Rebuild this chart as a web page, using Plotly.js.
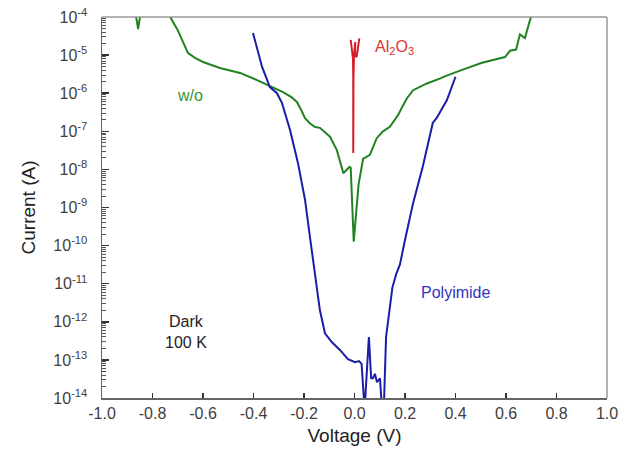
<!DOCTYPE html>
<html>
<head>
<meta charset="utf-8">
<script src="https://cdn.plot.ly/plotly-3.0.1.min.js"></script>
<style>html,body{margin:0;padding:0;background:#fff;}#chart{width:626px;height:455px;}</style>
</head>
<body>
<div id="chart"></div>
<script>
// w/o (green)
const woVoltage = [-0.95,-0.875,-0.862,-0.857,-0.852,-0.84,-0.76,-0.73,-0.70,-0.683,-0.66,-0.63,-0.6,-0.533,-0.453,-0.386,-0.327,-0.283,-0.25,-0.228,-0.21,-0.196,-0.176,-0.156,-0.137,-0.097,-0.07,-0.044,-0.02,-0.015,-0.003,0.006,0.016,0.034,0.061,0.088,0.113,0.14,0.173,0.19,0.208,0.232,0.287,0.34,0.36,0.426,0.505,0.596,0.616,0.64,0.655,0.675,0.695,0.72];
const woCurrent = [2.5e-4,2.0e-4,7.9e-5,4.8e-5,7.9e-5,2.0e-4,2.5e-4,1.0e-4,4.5e-5,2.5e-5,1.15e-5,8.3e-6,6.6e-6,4.6e-6,3.4e-6,2.2e-6,1.45e-6,1.07e-6,7.9e-7,5.9e-7,3.5e-7,2.2e-7,1.6e-7,1.3e-7,1.23e-7,7.2e-8,3.2e-8,7.9e-9,1.17e-8,1.1e-8,1.26e-10,6.3e-10,4.0e-9,1.9e-8,2.4e-8,6.6e-8,1.0e-7,1.32e-7,2.7e-7,4.5e-7,7.4e-7,1.2e-6,1.8e-6,2.45e-6,2.8e-6,4.1e-6,6.3e-6,8.9e-6,1.3e-5,1.4e-5,3.5e-5,2.8e-5,8.3e-5,2.5e-4];

// Polyimide (blue)
const piVoltage = [-0.402,-0.366,-0.335,-0.307,-0.287,-0.255,-0.224,-0.196,-0.176,-0.156,-0.137,-0.117,-0.09,-0.057,-0.026,0.002,0.018,0.028,0.04,0.057,0.066,0.073,0.081,0.089,0.101,0.109,0.116,0.125,0.133,0.14,0.15,0.165,0.18,0.2,0.232,0.27,0.31,0.325,0.366,0.40];
const piCurrent = [3.8e-5,4.9e-6,1.45e-6,1.0e-6,5.5e-7,1.07e-7,1.48e-8,1.6e-9,1.6e-10,1.6e-11,2.0e-12,5.0e-13,2.95e-13,1.8e-13,1.05e-13,8.7e-14,9.3e-14,7.9e-14,5e-15,4.0e-13,3.3e-14,3.3e-14,4.3e-14,2.6e-14,3.3e-14,5e-15,5e-15,4.0e-13,1.1e-12,3.2e-12,7.9e-12,1.78e-11,3.2e-11,1.4e-10,1.3e-9,1.15e-8,1.66e-7,2.2e-7,6.6e-7,2.7e-6];

// Al2O3 (red)
const alVoltage = [-0.015,-0.006,-0.005,-0.005,-0.004,-0.002,0.003,0.002,0.008,0.012,0.019];
const alCurrent = [2.5e-5,7.9e-6,2.5e-6,2.7e-8,2.5e-6,1.0e-5,2.2e-5,1.0e-5,8.9e-6,1.26e-5,2.75e-5];

const xTickVals = [-1.0,-0.8,-0.6,-0.4,-0.2,0.0,0.2,0.4,0.6,0.8,1.0];
const xTickText = ['-1.0','-0.8','-0.6','-0.4','-0.2','0.0','0.2','0.4','0.6','0.8','1.0'];
const yTickVals = [1e-14,1e-13,1e-12,1e-11,1e-10,1e-9,1e-8,1e-7,1e-6,1e-5,1e-4];
const yTickText = ['10<sup>-14</sup>','10<sup>-13</sup>','10<sup>-12</sup>','10<sup>-11</sup>','10<sup>-10</sup>','10<sup>-9</sup>','10<sup>-8</sup>','10<sup>-7</sup>','10<sup>-6</sup>','10<sup>-5</sup>','10<sup>-4</sup>'];
const minorMantissas = [2,3,4,5,6,7,8,9];

const yMinorVals = [];
yTickVals.slice(0, -1).forEach(d => minorMantissas.forEach(m => yMinorVals.push(m * d)));

const green = 'rgb(34,130,34)';
const blue = 'rgb(28,28,170)';
const red = 'rgb(215,30,40)';
const font = 'Arial, "Liberation Sans", sans-serif';

const traces = [
  {x: woVoltage, y: woCurrent, mode: 'lines', line: {color: green, width: 2}, name: 'w/o'},
  {x: piVoltage, y: piCurrent, mode: 'lines', line: {color: blue, width: 2}, name: 'Polyimide'},
  {x: alVoltage, y: alCurrent, mode: 'lines', line: {color: red, width: 2}, name: 'Al2O3'}
];

const layout = {
  width: 626, height: 455,
  margin: {l: 102, r: 19, t: 17, b: 57},
  paper_bgcolor: '#fff', plot_bgcolor: '#fff',
  showlegend: false,
  font: {family: font, color: '#333', size: 16},
  xaxis: {
    range: [-1, 1], tickvals: xTickVals, ticktext: xTickText,
    ticks: 'inside', ticklen: 5, tickcolor: '#333', tickwidth: 1.5,
    showline: true, linecolor: '#666', linewidth: 1.5,
    showgrid: false, zeroline: false,
    tickfont: {size: 16, color: '#404040'},
    title: {text: 'Voltage (V)', font: {size: 19, color: '#222'}, standoff: 8}
  },
  yaxis: {
    type: 'log', range: [-14, -4], tickmode: 'array', tickvals: yTickVals, ticktext: yTickText,
    ticks: 'inside', ticklen: 7, tickcolor: '#333', tickwidth: 1.5,
    minor: {tickmode: 'array', tickvals: yMinorVals, ticks: 'inside', ticklen: 4, tickcolor: '#555', tickwidth: 1, showgrid: false},
    showline: true, linecolor: '#666', linewidth: 1.5,
    showgrid: false, zeroline: false,
    tickfont: {size: 16, color: '#404040'},
    ticklabelstandoff: 10,
    title: {text: 'Current (A)', font: {size: 19, color: '#222'}, standoff: 12}
  },
  shapes: [
    {type: 'line', xref: 'paper', yref: 'paper', x0: 0, x1: 1, y0: 1, y1: 1, line: {color: '#999', width: 1.5}},
    {type: 'line', xref: 'paper', yref: 'paper', x0: 1, x1: 1, y0: 0, y1: 1, line: {color: '#999', width: 1.5}}
  ],
  annotations: [
    {x: -0.651, y: -6.07, xref: 'x', yref: 'y', text: 'w/o', showarrow: false, font: {size: 16, color: 'rgb(50,150,50)'}},
    {x: 0.16, y: -4.81, xref: 'x', yref: 'y', text: 'Al<sub>2</sub>O<sub>3</sub>', showarrow: false, font: {size: 16, color: 'rgb(225,50,50)'}},
    {x: 0.398, y: -11.24, xref: 'x', yref: 'y', text: 'Polyimide', showarrow: false, font: {size: 16, color: 'rgb(50,50,190)'}},
    {x: -0.667, y: -12.27, xref: 'x', yref: 'y', text: 'Dark<br>100 K', showarrow: false, font: {size: 16, color: '#222'}}
  ]
};

Plotly.newPlot('chart', traces, layout, {displayModeBar: false, staticPlot: true});
</script>
</body>
</html>
